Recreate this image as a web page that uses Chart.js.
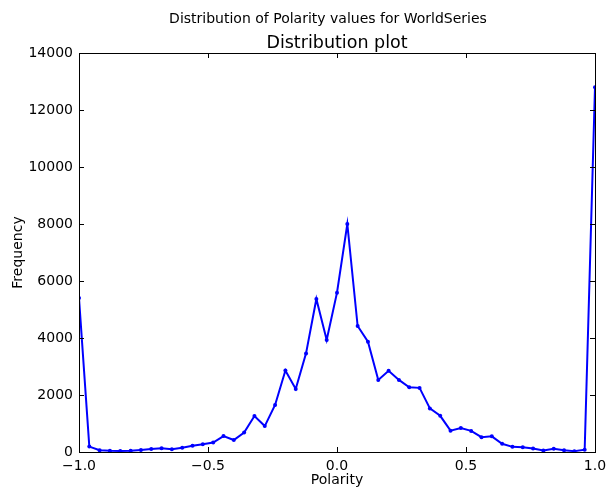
<!DOCTYPE html>
<html>
<head>
<meta charset="utf-8">
<script src="https://cdn.jsdelivr.net/npm/chart.js@4/dist/chart.umd.min.js"></script>
<style>
  html, body { margin: 0; padding: 0; background: #ffffff; }
  canvas { display: block; }
</style>
</head>
<body>
<canvas id="chart" width="615" height="495"></canvas>
<script>
// Polarity bin positions
const polarity = [
  -1.00, -0.96, -0.92, -0.88, -0.84, -0.80, -0.76, -0.72, -0.68, -0.64,
  -0.60, -0.56, -0.52, -0.48, -0.44, -0.40, -0.36, -0.32, -0.28, -0.24,
  -0.20, -0.16, -0.12, -0.08, -0.04, 0.00, 0.04, 0.08, 0.12, 0.16,
  0.20, 0.24, 0.28, 0.32, 0.36, 0.40, 0.44, 0.48, 0.52, 0.56,
  0.60, 0.64, 0.68, 0.72, 0.76, 0.80, 0.84, 0.88, 0.92, 0.96,
  1.00
];

// Number of tweets per polarity bin
const frequency = [
  5400, 190, 60, 40, 35, 40, 70, 105, 130, 100,
  150, 220, 270, 330, 560, 420, 680, 1260, 910, 1650,
  2860, 2210, 3460, 5370, 3930, 5590, 8000, 4420, 3870, 2530,
  2850, 2530, 2270, 2250, 1530, 1270, 750, 840, 740, 520,
  550, 290, 180, 165, 120, 55, 110, 60, 30, 80,
  12800
];

const xTicks = [-1.0, -0.5, 0.0, 0.5, 1.0];
const yTicks = [0, 2000, 4000, 6000, 8000, 10000, 12000, 14000];

const figureTitle = 'Distribution of Polarity values for WorldSeries';
const axesTitle = 'Distribution plot';

const FONT = '"DejaVu Sans", "Liberation Sans", sans-serif';

const points = polarity.map((x, i) => ({ x: x, y: frequency[i] }));

// Frame, inward tick marks and titles
const framePlugin = {
  id: 'frame',
  afterDraw(chart) {
    const { ctx, chartArea: a, scales } = chart;
    ctx.save();
    ctx.strokeStyle = '#000000';
    ctx.lineWidth = 1;
    ctx.strokeRect(a.left + 0.5, a.top + 0.5, a.right - a.left, a.bottom - a.top);

    const len = 5;
    ctx.beginPath();
    xTicks.forEach(v => {
      const px = Math.round(scales.x.getPixelForValue(v)) + 0.5;
      ctx.moveTo(px, a.bottom); ctx.lineTo(px, a.bottom - len);
      ctx.moveTo(px, a.top); ctx.lineTo(px, a.top + len);
    });
    yTicks.forEach(v => {
      const py = Math.round(scales.y.getPixelForValue(v)) + 0.5;
      ctx.moveTo(a.left, py); ctx.lineTo(a.left + len, py);
      ctx.moveTo(a.right, py); ctx.lineTo(a.right - len, py);
    });
    ctx.stroke();

    ctx.fillStyle = '#000000';
    ctx.textAlign = 'center';
    ctx.textBaseline = 'middle';
    ctx.font = '14px ' + FONT;
    ctx.fillText(figureTitle, 328, 19);
    ctx.font = '17.5px ' + FONT;
    ctx.fillText(axesTitle, (a.left + a.right) / 2, 43);
    ctx.restore();
  }
};

new Chart(document.getElementById('chart'), {
  type: 'line',
  data: {
    datasets: [{
      data: points,
      borderColor: '#0000ff',
      backgroundColor: '#0000ff',
      borderWidth: 2,
      pointRadius: 2,
      pointBorderWidth: 0,
      pointBackgroundColor: '#0000ff',
      tension: 0,
      fill: false
    }]
  },
  options: {
    responsive: false,
    animation: false,
    devicePixelRatio: 1,
    layout: { padding: { top: 53, right: 20, left: 0, bottom: 0 } },
    plugins: {
      legend: { display: false },
      tooltip: { enabled: false },
      title: { display: false }
    },
    scales: {
      x: {
        type: 'linear',
        min: -1,
        max: 1,
        afterFit(scale) { scale.height = 43; },
        afterBuildTicks(scale) { scale.ticks = xTicks.map(v => ({ value: v })); },
        grid: { display: false, drawTicks: false },
        border: { display: false },
        ticks: {
          padding: 6,
          color: '#000000',
          font: { family: FONT, size: 14 },
          maxRotation: 0,
          callback: v => v.toFixed(1).replace('-', '\u2212')
        },
        title: {
          display: true,
          text: 'Polarity',
          color: '#000000',
          font: { family: FONT, size: 14 },
          padding: { top: 0, bottom: 6 }
        }
      },
      y: {
        type: 'linear',
        min: 0,
        max: 14000,
        afterFit(scale) { scale.width = 79; },
        afterBuildTicks(scale) { scale.ticks = yTicks.map(v => ({ value: v })); },
        grid: { display: false, drawTicks: false },
        border: { display: false },
        ticks: {
          padding: 6,
          color: '#000000',
          font: { family: FONT, size: 14 },
          callback: v => String(v)
        },
        title: {
          display: true,
          text: 'Frequency',
          color: '#000000',
          font: { family: FONT, size: 14 },
          padding: { top: 10, bottom: 0 }
        }
      }
    }
  },
  plugins: [framePlugin]
});
</script>
</body>
</html>
